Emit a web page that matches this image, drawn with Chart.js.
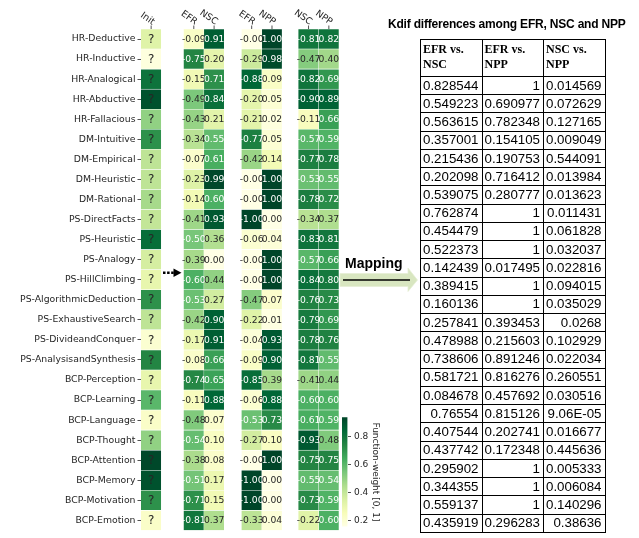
<!DOCTYPE html>
<html>
<head>
<meta charset="utf-8">
<script src="https://cdn.jsdelivr.net/npm/chart.js@4.4.1/dist/chart.umd.min.js"></script>
<style>
  body { margin: 0; background: #fff; width: 639px; height: 538px; overflow: hidden; position: relative; }
  #heat { position: absolute; left: 0; top: 0; }
  #cbar { position: absolute; left: 331px; top: 405px; }
  #deco { position: absolute; left: 0; top: 0; pointer-events: none; }
  #title { position: absolute; left: 388px; top: 17px; font: bold 12px "Liberation Sans"; letter-spacing: -0.2px; color: #000; white-space: nowrap; }
  #kdif { position: absolute; left: 420px; top: 39px; border-collapse: collapse; table-layout: fixed; }
  #kdif th, #kdif td { border: 1px solid #000; box-sizing: border-box; width: 61.5px; overflow: hidden; white-space: nowrap; }
  #kdif th { font: bold 12px "Liberation Serif"; text-align: left; vertical-align: top; height: 37px; padding: 2px 2px 0 2px; line-height: 15px; white-space: normal; }
  #kdif td { font: 13.3px "Liberation Sans"; text-align: right; height: 18.24px; padding: 0 3px 0 0; line-height: 16px; }
</style>
</head>
<body>
<canvas id="heat" width="345" height="538"></canvas>
<canvas id="cbar" width="54" height="130"></canvas>
<svg id="deco" width="639" height="538">
  <line x1="163" y1="272.7" x2="174" y2="272.7" stroke="#000" stroke-width="2.5" stroke-dasharray="2.5 1.6"/>
  <polygon points="173.5,268.5 181.5,272.7 173.5,277" fill="#000"/>
  <polygon points="340,273.5 408,273.5 408,268 417.5,280 408,291.5 408,286.5 340,286.5" fill="#d8e6c0" stroke="#e6efd6" stroke-width="0.8"/>
  <line x1="343" y1="280" x2="410" y2="280" stroke="#000" stroke-width="1.4"/>
  <text x="345" y="267.5" font-family="Liberation Sans" font-weight="bold" font-size="14" fill="#000">Mapping</text>
</svg>
<div id="title">Kdif differences among EFR, NSC and NPP</div>
<table id="kdif"><thead><tr id="khead"></tr></thead><tbody id="kbody"></tbody></table>

<script>
// heatmap rows
const rows = [
  'HR-Deductive', 'HR-Inductive', 'HR-Analogical', 'HR-Abductive', 'HR-Fallacious',
  'DM-Intuitive', 'DM-Empirical', 'DM-Heuristic', 'DM-Rational',
  'PS-DirectFacts', 'PS-Heuristic', 'PS-Analogy', 'PS-HillClimbing', 'PS-AlgorithmicDeduction',
  'PS-ExhaustiveSearch', 'PS-DivideandConquer', 'PS-AnalysisandSynthesis',
  'BCP-Perception', 'BCP-Learning', 'BCP-Language', 'BCP-Thought', 'BCP-Attention',
  'BCP-Memory', 'BCP-Motivation', 'BCP-Emotion'
];

// Init column (function-weight, shown as "?")
const initWeights = [0.33, 0.17, 0.80, 0.90, 0.50, 0.71, 0.41, 0.41, 0.46, 0.40, 0.82, 0.36, 0.30,
  0.71, 0.41, 0.20, 0.74, 0.30, 0.60, 0.22, 0.50, 0.93, 0.90, 0.71, 0.22];

// EFR vs NSC
const efrA = [-0.09, -0.75, -0.15, -0.49, -0.43, -0.34, -0.07, -0.23, -0.14, -0.41, -0.50, -0.39, -0.60,
  -0.53, -0.42, -0.17, -0.08, -0.74, -0.11, -0.48, -0.54, -0.38, -0.51, -0.71, -0.81];
const nscA = [0.91, 0.20, 0.71, 0.84, 0.21, 0.55, 0.61, 0.99, 0.60, 0.93, 0.36, 0.00, 0.44,
  0.27, 0.90, 0.91, 0.66, 0.65, 0.88, 0.07, 0.10, 0.08, 0.17, 0.15, 0.37];

// EFR vs NPP
const efrB = [-0.00, -0.29, -0.88, -0.20, -0.21, -0.77, -0.42, -0.00, -0.00, -1.00, -0.06, -0.00, -0.00,
  -0.47, -0.22, -0.04, -0.09, -0.85, -0.06, -0.53, -0.27, -0.00, -1.00, -1.00, -0.33];
const nppB = [1.00, 0.98, 0.09, 0.05, 0.02, 0.05, 0.14, 1.00, 1.00, 0.00, 0.04, 1.00, 1.00,
  0.07, 0.01, 0.93, 0.90, 0.39, 0.88, 0.73, 0.10, 1.00, 0.00, 0.00, 0.04];

// NSC vs NPP
const nscC = [-0.81, -0.47, -0.82, -0.90, -0.11, -0.57, -0.77, -0.53, -0.78, -0.34, -0.83, -0.57, -0.84,
  -0.76, -0.79, -0.78, -0.81, -0.41, -0.60, -0.61, -0.93, -0.75, -0.55, -0.73, -0.22];
const nppC = [0.82, 0.40, 0.69, 0.89, 0.66, 0.59, 0.78, 0.55, 0.72, 0.37, 0.81, 0.66, 0.80,
  0.73, 0.69, 0.76, 0.55, 0.44, 0.60, 0.59, 0.48, 0.75, 0.54, 0.59, 0.60];

const colLabels = ['Init', 'EFR', 'NSC', 'EFR', 'NPP', 'NSC', 'NPP'];
const colSeries = [initWeights, efrA, nscA, efrB, nppB, nscC, nppC];

// colorbar
const cbMin = 0.155, cbMax = 0.937;
const cbTicks = [0.2, 0.4, 0.6, 0.8];
const cbTitle = 'Function-weight [0, 1]';

// Kdif table
const kdifHeaders = ['EFR vs. NSC', 'EFR vs. NPP', 'NSC vs. NPP'];
const kdifEfrNsc = ['0.828544', '0.549223', '0.563615', '0.357001', '0.215436', '0.202098', '0.539075',
  '0.762874', '0.454479', '0.522373', '0.142439', '0.389415', '0.160136', '0.257841', '0.478988',
  '0.738606', '0.581721', '0.084678', '0.76554', '0.407544', '0.437742', '0.295902', '0.344355',
  '0.559137', '0.435919'];
const kdifEfrNpp = ['1', '0.690977', '0.782348', '0.154105', '0.190753', '0.716412', '0.280777',
  '1', '1', '1', '0.017495', '1', '1', '0.393453', '0.215603',
  '0.891246', '0.816276', '0.457692', '0.815126', '0.202741', '0.172348', '1', '1',
  '1', '0.296283'];
const kdifNscNpp = ['0.014569', '0.072629', '0.127165', '0.009049', '0.544091', '0.013984', '0.013623',
  '0.011431', '0.061828', '0.032037', '0.022816', '0.094015', '0.035029', '0.0268', '0.102929',
  '0.022034', '0.260551', '0.030516', '9.06E-05', '0.016677', '0.445636', '0.005333', '0.006084',
  '0.140296', '0.38636'];

// layout of the heatmap columns in x-scale units (one unit = one cell)
const colSpans = [[0, 1], [2.1, 3.1], [3.1, 4.1], [4.95, 5.95], [5.95, 6.95], [7.75, 8.75], [8.75, 9.75]];

const YLGN = ['#ffffe5', '#f7fcb9', '#d9f0a3', '#addd8e', '#78c679', '#41ab5d', '#238443', '#006837', '#004529'];
const hexRgb = h => [1, 3, 5].map(i => parseInt(h.slice(i, i + 2), 16));
function ylgn(t) {
  t = Math.min(1, Math.max(0, t));
  const p = t * 8;
  const i = Math.min(7, Math.floor(p));
  const f = p - i;
  const a = hexRgb(YLGN[i]), b = hexRgb(YLGN[i + 1]);
  const c = a.map((v, k) => Math.round(v + (b[k] - v) * f));
  return `rgb(${c[0]},${c[1]},${c[2]})`;
}

const fmt = v => ((v < 0 || Object.is(v, -0)) ? '-' : '') + Math.abs(v).toFixed(2);
const FONT = 'DejaVu Sans';
const TXT = '#262626';

const datasets = colSeries.map((vals, c) => {
  const isInit = c === 0;
  return {
    label: colLabels[c],
    data: vals.map(() => colSpans[c]),
    backgroundColor: vals.map(v => isInit ? ylgn((v - cbMin) / (cbMax - cbMin)) : ylgn(Math.abs(v))),
    borderColor: 'rgba(255,255,255,0.7)',
    borderWidth: 0.6,
    annot: vals.map(v => isInit ? '?' : fmt(v)),
    annotColor: vals.map(v => (!isInit && Math.abs(v) >= 0.5) ? '#ffffff' : TXT)
  };
});

const annotPlugin = {
  id: 'annot',
  afterDatasetsDraw(chart) {
    const { ctx, chartArea, scales } = chart;
    ctx.save();
    chart.data.datasets.forEach((ds, di) => {
      const meta = chart.getDatasetMeta(di);
      const isInit = di === 0;
      ctx.font = (isInit ? 12 : 9.2) + 'px "' + FONT + '"';
      ctx.textAlign = 'center';
      ctx.textBaseline = 'middle';
      meta.data.forEach((bar, i) => {
        const p = bar.getCenterPoint();
        ctx.fillStyle = ds.annotColor[i];
        ctx.fillText(ds.annot[i], p.x, p.y + (isInit ? 0.5 : 0.5));
      });
      // column header: tick mark and rotated label
      const cx = scales.x.getPixelForValue((colSpans[di][0] + colSpans[di][1]) / 2);
      ctx.strokeStyle = TXT;
      ctx.lineWidth = 0.8;
      ctx.beginPath();
      ctx.moveTo(cx, chartArea.top - 3.5);
      ctx.lineTo(cx, chartArea.top);
      ctx.stroke();
      ctx.save();
      ctx.translate(cx + 2.5, chartArea.top - 6);
      ctx.rotate(35 * Math.PI / 180);
      ctx.font = '9.3px "' + FONT + '"';
      ctx.fillStyle = TXT;
      ctx.textAlign = 'right';
      ctx.textBaseline = 'middle';
      ctx.fillText(colLabels[di], 0, 0);
      ctx.restore();
    });
    ctx.restore();
  }
};

new Chart(document.getElementById('heat'), {
  type: 'bar',
  data: { labels: rows, datasets },
  options: {
    indexAxis: 'y',
    responsive: false,
    animation: false,
    layout: { padding: { left: 0, right: 6, top: 29, bottom: 1 } },
    plugins: { legend: { display: false }, tooltip: { enabled: false } },
    datasets: { bar: { grouped: false, barPercentage: 1, categoryPercentage: 1 } },
    scales: {
      x: { type: 'linear', min: 0, max: 9.75, display: false },
      y: {
        grid: { display: true, drawOnChartArea: false, offset: false, tickLength: 3.5, color: TXT, lineWidth: 0.8 },
        border: { display: false },
        ticks: { font: { family: FONT, size: 9.3 }, color: TXT, padding: 2, autoSkip: false },
        afterFit: s => { s.width = 141; }
      }
    }
  },
  plugins: [annotPlugin]
});

new Chart(document.getElementById('cbar'), {
  type: 'bar',
  data: {
    labels: [''],
    datasets: [{
      data: [[cbMin, cbMax]],
      backgroundColor: c => {
        const a = c.chart.chartArea;
        if (!a) return YLGN[4];
        const g = c.chart.ctx.createLinearGradient(0, a.bottom, 0, a.top);
        YLGN.forEach((col, i) => g.addColorStop(i / 8, col));
        return g;
      }
    }]
  },
  options: {
    responsive: false,
    animation: false,
    layout: { padding: { left: 11, right: 0, top: 12.3, bottom: 7 } },
    plugins: { legend: { display: false }, tooltip: { enabled: false } },
    datasets: { bar: { barPercentage: 1, categoryPercentage: 1 } },
    scales: {
      x: { display: false },
      y: {
        position: 'right',
        min: cbMin,
        max: cbMax,
        afterBuildTicks: s => { s.ticks = cbTicks.map(v => ({ value: v })); },
        ticks: { font: { family: FONT, size: 9 }, color: TXT, padding: 3, callback: v => v.toFixed(1) },
        grid: { drawOnChartArea: false, tickLength: 3.5, color: TXT, lineWidth: 0.8 },
        border: { display: false },
        title: { display: true, text: cbTitle, font: { family: FONT, size: 9 }, color: TXT, padding: { top: 4, bottom: 0 } },
        afterFit: s => { s.width = 37.5; }
      }
    }
  }
});

// Kdif table
const khead = document.getElementById('khead');
kdifHeaders.forEach(h => {
  const th = document.createElement('th');
  th.textContent = h;
  khead.appendChild(th);
});
const kbody = document.getElementById('kbody');
kdifEfrNsc.forEach((v, i) => {
  const tr = document.createElement('tr');
  [v, kdifEfrNpp[i], kdifNscNpp[i]].forEach(t => {
    const td = document.createElement('td');
    td.textContent = t;
    tr.appendChild(td);
  });
  kbody.appendChild(tr);
});
</script>
</body>
</html>
